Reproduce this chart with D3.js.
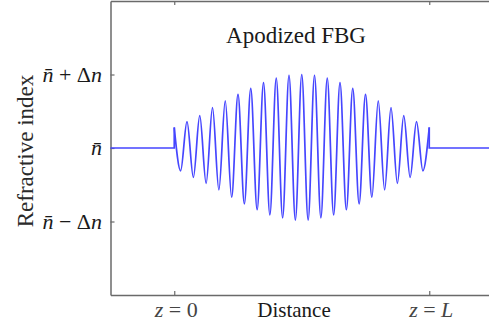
<!DOCTYPE html>
<html>
<head>
<meta charset="utf-8">
<script src="https://cdn.jsdelivr.net/npm/d3@7"></script>
<style>
  body { margin: 0; background: #fff; }
  svg text, svg tspan { font-family: "Liberation Serif", "DejaVu Serif", serif; }
</style>
</head>
<body>
<svg id="chart" width="489" height="329"></svg>
<script>
// grating: 20 periods between z = 0 and z = L, values in units of delta n
const periods = 20;
const peakValues = [0.28, 0.36, 0.44, 0.55, 0.64, 0.73, 0.81, 0.89, 0.95, 0.99, 1.00,
                    0.99, 0.95, 0.89, 0.81, 0.73, 0.64, 0.55, 0.44, 0.36, 0.28];
const troughValues = [-0.31, -0.40, -0.48, -0.57, -0.67, -0.76, -0.84, -0.91, -0.95, -0.98,
                      -0.98, -0.95, -0.91, -0.84, -0.76, -0.67, -0.57, -0.48, -0.40, -0.31];
const xDomain = [-0.25, 1.25];
const yDomain = [-2, 2];
const xTicks = [0, 1];
const xTickNames = ["0", "L"];
const yTicks = [1, 0, -1];

const svg = d3.select("#chart");
const x = d3.scaleLinear().domain(xDomain).range([110.5, 493]);
const y = d3.scaleLinear().domain(yDomain).range([295, 1]);

// build extrema points of the wave
const wave = [];
peakValues.forEach((v, k) => {
  wave.push([k / periods, v]);
  if (k < troughValues.length) wave.push([(k + 0.5) / periods, troughValues[k]]);
});

const axisColor = "#6a6a6a";

// axes, ticks inward
const gb = svg.append("g").attr("transform", "translate(0,295)")
  .call(d3.axisBottom(x).tickValues(xTicks).tickSize(-4).tickSizeOuter(0).tickFormat(""));
const gt = svg.append("g").attr("transform", "translate(0,1)")
  .call(d3.axisTop(x).tickValues(xTicks).tickSize(-4).tickSizeOuter(0).tickFormat(""));
const gl = svg.append("g").attr("transform", "translate(110.5,0)")
  .call(d3.axisLeft(y).tickValues(yTicks).tickSize(-4).tickSizeOuter(0).tickFormat(""));
[gb, gt, gl].forEach(g => {
  g.select(".domain").attr("stroke", axisColor).attr("stroke-width", 1.5);
  g.selectAll(".tick line").attr("stroke", axisColor).attr("stroke-width", 1.2);
});

// refractive index profile
const line = d3.line().x(d => x(d[0])).y(d => y(d[1]));
const blue = "#4646ff";
const first = wave[0], last = wave[wave.length - 1];
svg.append("path")
  .attr("d", line([[xDomain[0], 0], [0, 0], first]))
  .attr("fill", "none").attr("stroke", blue).attr("stroke-width", 1.7);
svg.append("path")
  .attr("d", line([last, [1, 0], [xDomain[1], 0]]))
  .attr("fill", "none").attr("stroke", blue).attr("stroke-width", 1.7);
svg.append("path")
  .attr("d", line.curve(d3.curveMonotoneX)(wave))
  .attr("fill", "none").attr("stroke", blue).attr("stroke-width", 1.7);

// title
svg.append("text").attr("x", 296).attr("y", 43)
  .attr("text-anchor", "middle").attr("font-size", 23).attr("fill", "#1a1a1a")
  .text("Apodized FBG");

// y label
svg.append("text")
  .attr("transform", "translate(33,151) rotate(-90)")
  .attr("text-anchor", "middle").attr("font-size", 23).attr("fill", "#2a2a2a")
  .text("Refractive index");

// y tick labels
yTicks.forEach(v => {
  const t = svg.append("text").attr("x", 102).attr("y", y(v) + 7)
    .attr("text-anchor", "end").attr("font-size", 22).attr("fill", "#1a1a1a");
  t.append("tspan").attr("font-style", "italic").text("n\u0304");
  if (v !== 0) {
    t.append("tspan").text(v > 0 ? " + \u0394" : " \u2212 \u0394");
    t.append("tspan").attr("font-style", "italic").text("n");
  }
});

// x tick labels
xTicks.forEach((v, i) => {
  const t = svg.append("text").attr("x", x(v) + 2).attr("y", 317)
    .attr("text-anchor", "middle").attr("font-size", 22).attr("fill", "#444");
  t.append("tspan").attr("font-style", "italic").text("z");
  t.append("tspan").text(" = ");
  t.append("tspan").attr("font-style", xTickNames[i] === "L" ? "italic" : "normal").text(xTickNames[i]);
});

svg.append("text").attr("x", 294).attr("y", 317)
  .attr("text-anchor", "middle").attr("font-size", 21).attr("fill", "#1a1a1a")
  .text("Distance");
</script>
</body>
</html>
